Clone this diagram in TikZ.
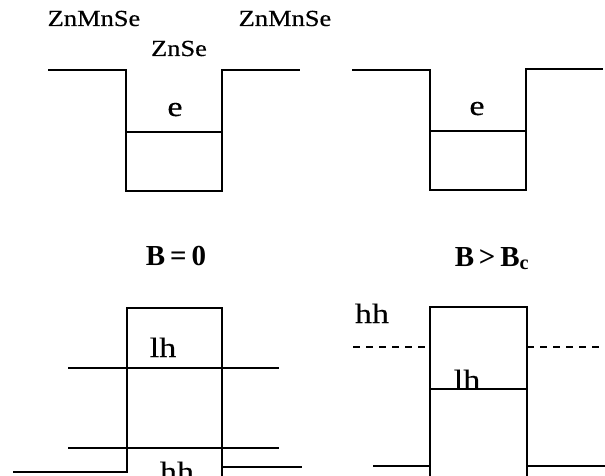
\documentclass[tikz,border=0pt]{standalone}
\usepackage{fontspec}
\setmainfont{Liberation Serif}
\newfontfamily\widefont[FakeStretch=1.15,FakeBold=0.5]{Liberation Serif}
\newfontfamily\labfont[FakeStretch=1.22,FakeBold=0.4]{Liberation Serif}
\begin{document}
\begin{tikzpicture}[x=1pt,y=-1pt,
  band/.style={line width=2pt,line join=miter},
  lvl/.style={line width=2pt},
  mat/.style={inner sep=0pt,anchor=base,font=\widefont\fontsize{23}{26}\selectfont},
  lab/.style={inner sep=0pt,anchor=base,font=\labfont\fontsize{28}{32}\selectfont},
  ttl/.style={inner sep=0pt,anchor=base,font=\fontsize{29}{32}\selectfont\bfseries}]
\useasboundingbox (0,0) rectangle (605,476);
% labels
\node[mat] (m1) at (94,26) {ZnMnSe};
\node[mat] (m2) at (179,56) {ZnSe};
\node[mat] (m3) at (285,26) {ZnMnSe};
\node[lab] (e1) at (175,116) {e};
\node[lab] (e2) at (477,115) {e};
\node[ttl] (t1) at (176,265) {B\,=\,0};
\node[ttl] (t2) at (492,266) {B\,>\,B\textsubscript{c}};
\node[lab] (lh1) at (163,357) {lh};
\node[lab] (hh1) at (177,481) {hh};
\node[lab] (hh2) at (372,323) {hh};
\node[lab] (lh2) at (467,389) {lh};
% top left conduction band
\draw[band] (48,70) -- (126,70) -- (126,191) -- (222,191) -- (222,70) -- (300,70);
\draw[lvl] (126,132) -- (222,132);
% top right conduction band
\draw[band] (352,70) -- (430,70) -- (430,190) -- (526,190) -- (526,69) -- (603,69);
\draw[lvl] (430,131) -- (526,131);
% bottom left valence band
\draw[band] (13,472) -- (127,472) -- (127,308) -- (222,308) -- (222,476);
\draw[band] (222,467) -- (302,467);
\draw[lvl] (68,368) -- (279,368);
\draw[lvl] (68,448) -- (279,448);
% bottom right valence band
\draw[band] (373,466) -- (430,466);
\draw[band] (430,476) -- (430,307) -- (527,307) -- (527,476);
\draw[band] (527,466) -- (605,466);
\draw[lvl] (430,389) -- (527,389);
\draw[lvl,dashed,dash pattern=on 7pt off 6pt] (353,347) -- (430,347);
\draw[lvl,dashed,dash pattern=on 7pt off 6pt] (527,347) -- (605,347);
\end{tikzpicture}
\end{document}
